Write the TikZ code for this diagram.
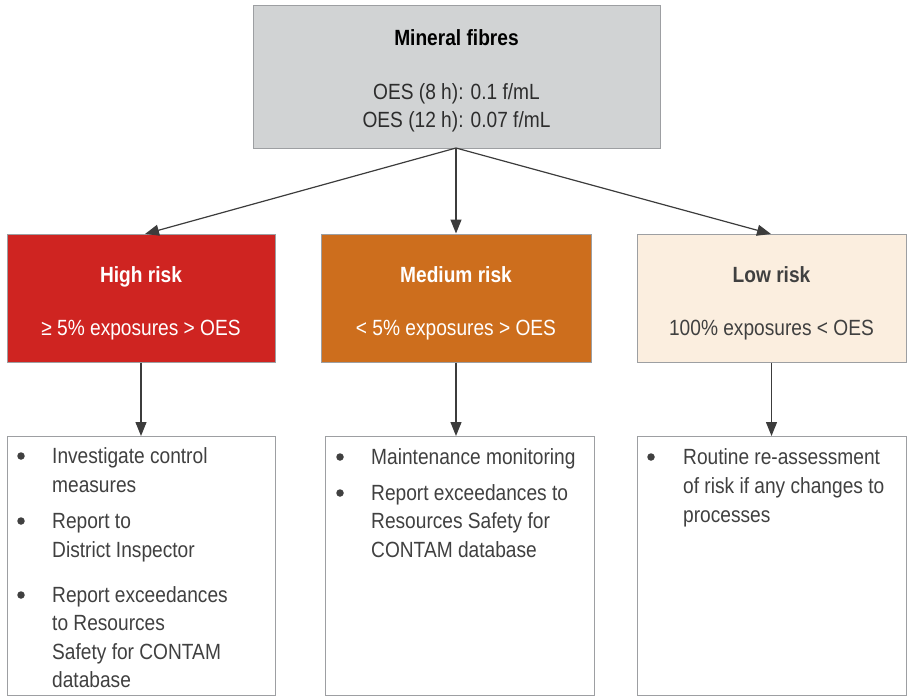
\documentclass[tikz,border=0pt]{standalone}
\usepackage{fontspec}
\setmainfont[FakeStretch=0.87]{Liberation Sans}
\usetikzlibrary{arrows.meta}
\definecolor{topfill}{HTML}{D1D3D4}
\definecolor{boxline}{HTML}{9D9FA2}
\definecolor{highred}{HTML}{CF2421}
\definecolor{medorange}{HTML}{CD6E1D}
\definecolor{lowfill}{HTML}{FBEEDF}
\definecolor{textgray}{HTML}{404040}
\definecolor{arrowgray}{HTML}{3C3C3C}
\newcommand{\bodyfont}{\fontsize{22}{29}\selectfont}
\tikzset{
  box/.style={draw=boxline, line width=1pt, inner sep=0pt, rectangle},
  txt/.style={inner sep=0pt, anchor=base west, font=\bodyfont, text=textgray},
  ctr/.style={inner sep=0pt, anchor=base, font=\bodyfont},
  conn/.style={draw=arrowgray, line width=1.2pt, -{Triangle[width=11pt,length=14pt]}},
  bul/.style={circle, fill=textgray, inner sep=0pt, minimum size=7.5pt}
}
\begin{document}
\begin{tikzpicture}[x=1pt,y=-1pt]
\useasboundingbox (0,0) rectangle (907,697);
% boxes
\node[box, fill=topfill, minimum width=407pt, minimum height=143pt] (top) at (456.5,76.5) {};
\node[box, fill=highred, minimum width=268pt, minimum height=128pt] (high) at (141,298) {};
\node[box, fill=medorange, minimum width=270pt, minimum height=128pt] (med) at (456,298) {};
\node[box, fill=lowfill, minimum width=269pt, minimum height=128pt] (low) at (771.5,298) {};
\node[box, fill=white, minimum width=268pt, minimum height=259pt] (highl) at (141,566) {};
\node[box, fill=white, minimum width=269pt, minimum height=259pt] (medl) at (459.5,566) {};
\node[box, fill=white, minimum width=269pt, minimum height=259pt] (lowl) at (771.5,566) {};
% top text
\node[ctr, font=\bodyfont\bfseries, text=black] (tt) at (456.5,45) {Mineral fibres};
\node[ctr, text=textgray!70!black] (t1) at (456.5,99) {OES (8 h): 0.1 f/mL};
\node[ctr, text=textgray!70!black] (t2) at (456.5,127) {OES (12 h): 0.07 f/mL};
% risk texts
\node[ctr, font=\bodyfont\bfseries, text=white] (ht) at (141,282) {High risk};
\node[ctr, text=white] (hs) at (141,335) {≥ 5\% exposures > OES};
\node[ctr, font=\bodyfont\bfseries, text=white] (mt) at (456,282) {Medium risk};
\node[ctr, text=white] (ms) at (456,335) {< 5\% exposures > OES};
\node[ctr, font=\bodyfont\bfseries, text=textgray] (lt) at (771.5,282) {Low risk};
\node[ctr, text=textgray] (ls) at (771.5,335) {100\% exposures < OES};
% connectors
\coordinate (tb) at (456,148);
\coordinate (hin) at (145,234);
\coordinate (lin) at (771,234);
\draw[conn] (tb) -- (hin);
\draw[conn] (tb) -- (med.north);
\draw[conn] (tb) -- (lin);
\draw[conn] (high.south) -- (highl.north);
\draw[conn] (med.south) -- (med.south |- medl.north);
\draw[conn] (low.south) -- (lowl.north);
% high list
\node[bul] (hb1) at (21,456) {};
\node[txt] (h1) at (52,463) {Investigate control};
\node[txt] (h2) at (52,492) {measures};
\node[bul] (hb2) at (21,521) {};
\node[txt] (h3) at (52,528) {Report to};
\node[txt] (h4) at (52,557) {District Inspector};
\node[bul] (hb3) at (21,595) {};
\node[txt] (h5) at (52,602) {Report exceedances};
\node[txt] (h6) at (52,630) {to Resources};
\node[txt] (h7) at (52,659) {Safety for CONTAM};
\node[txt] (h8) at (52,687) {database};
% medium list
\node[bul] (mb1) at (340,457) {};
\node[txt] (m1) at (371,464) {Maintenance monitoring};
\node[bul] (mb2) at (340,493) {};
\node[txt] (m2) at (371,500) {Report exceedances to};
\node[txt] (m3) at (371,528) {Resources Safety for};
\node[txt] (m4) at (371,557) {CONTAM database};
% low list
\node[bul] (lb1) at (651,457) {};
\node[txt] (l1) at (683,464) {Routine re-assessment};
\node[txt] (l2) at (683,493) {of risk if any changes to};
\node[txt] (l3) at (683,522) {processes};
\end{tikzpicture}
\end{document}
